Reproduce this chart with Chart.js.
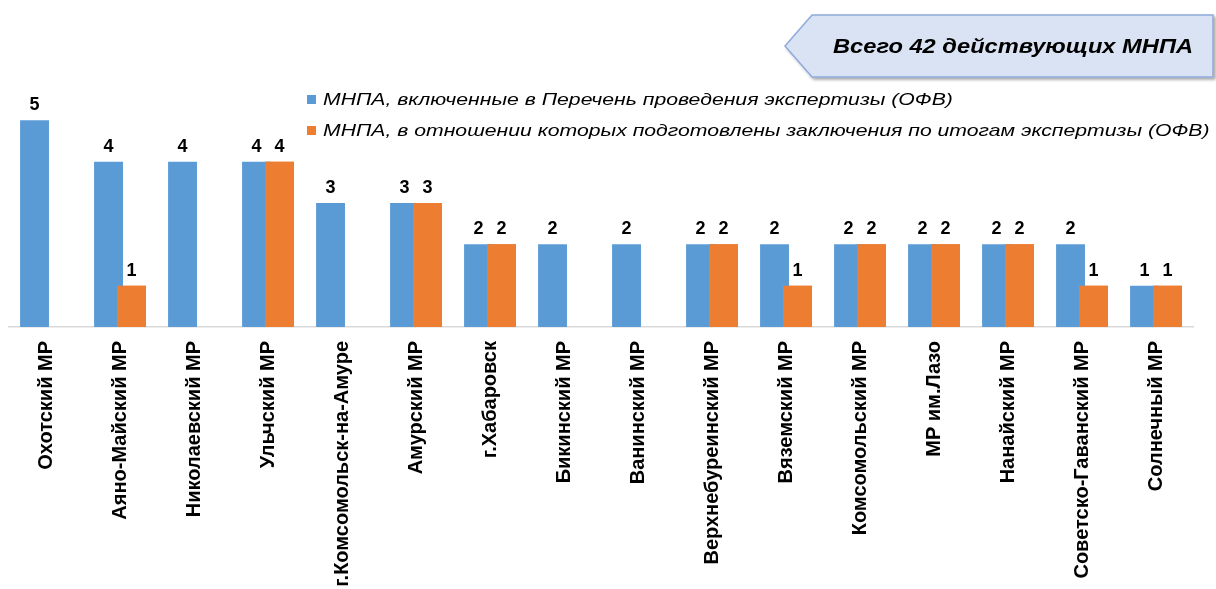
<!DOCTYPE html>
<html lang="ru">
<head>
<meta charset="utf-8">
<title>МНПА</title>
<script src="https://cdn.jsdelivr.net/npm/chart.js@4/dist/chart.umd.min.js"></script>
<style>
  html, body { margin: 0; padding: 0; background: #fff; }
  #wrap { position: relative; width: 1216px; height: 589px; overflow: hidden; }
  #chart { position: absolute; left: 0; top: 0; }
  #legend { position: absolute; left: 307px; top: 84px; font-family: "Liberation Sans", Arial, sans-serif; }
  .item { display: flex; align-items: center; height: 31px; white-space: nowrap; }
  .box { width: 9px; height: 9px; margin-right: 7px; flex: none; }
  .txt { display: inline-block; font-style: italic; font-size: 17px; color: #000; transform-origin: 0 50%; }
  #callout { position: absolute; left: 780px; top: 10px; }
</style>
</head>
<body>
<div id="wrap">
  <canvas id="chart" width="1216" height="589"></canvas>
  <div id="legend"></div>
  <svg id="callout" width="436" height="76">
    <defs>
      <filter id="shadow" x="-5%" y="-10%" width="115%" height="130%">
        <feDropShadow dx="2" dy="2" stdDeviation="1.5" flood-color="#000" flood-opacity="0.35"/>
      </filter>
    </defs>
    <polygon points="5,36 32,5 433,5 433,67 32,67" fill="#dae3f3" stroke="#8eaadb" stroke-width="1.5" filter="url(#shadow)"/>
    <text x="53" y="43" textLength="360" lengthAdjust="spacingAndGlyphs" font-family="Liberation Sans, Arial, sans-serif" font-size="21" font-weight="bold" font-style="italic" fill="#000">Всего 42 действующих МНПА</text>
  </svg>
</div>
<script>
// Данные диаграммы
const categories = [
  'Охотский МР', 'Аяно-Майский МР', 'Николаевский МР', 'Ульчский МР',
  'г.Комсомольск-на-Амуре', 'Амурский МР', 'г.Хабаровск', 'Бикинский МР',
  'Ванинский МР', 'Верхнебуреинский МР', 'Вяземский МР', 'Комсомольский МР',
  'МР им.Лазо', 'Нанайский МР', 'Советско-Гаванский МР', 'Солнечный МР'
];
const includedValues = [5, 4, 4, 4, 3, 3, 2, 2, 2, 2, 2, 2, 2, 2, 2, 1];
const concludedValues = [0, 1, 0, 4, 0, 3, 2, 0, 0, 2, 1, 2, 2, 2, 1, 1];
const seriesNames = [
  'МНПА, включенные в Перечень проведения экспертизы (ОФВ)',
  'МНПА, в отношении которых подготовлены заключения по итогам экспертизы (ОФВ)'
];
const seriesColors = ['#5b9bd5', '#ed7d31'];

const fontFamily = '"Liberation Sans", Arial, sans-serif';

// Оранжевые столбики поверх синих (как в Excel с перекрытием) + подписи значений
const valueLabels = {
  id: 'valueLabels',
  afterDatasetsDraw(chart) {
    const ctx = chart.ctx;
    chart.getDatasetMeta(1).data.forEach(bar => bar.draw(ctx));

    ctx.save();
    ctx.font = 'bold 18px ' + fontFamily;
    ctx.fillStyle = '#000';
    ctx.textAlign = 'center';
    ctx.textBaseline = 'alphabetic';
    chart.data.datasets.forEach((ds, i) => {
      chart.getDatasetMeta(i).data.forEach((bar, j) => {
        const v = ds.data[j];
        if (!v) return;
        ctx.fillText(String(v), bar.x, bar.y - 10);
      });
    });
    ctx.restore();
  }
};

const chart = new Chart(document.getElementById('chart').getContext('2d'), {
  type: 'bar',
  data: {
    labels: categories,
    datasets: [
      { label: seriesNames[0], data: includedValues, backgroundColor: seriesColors[0],
        categoryPercentage: 0.62, barPercentage: 1.26 },
      { label: seriesNames[1], data: concludedValues, backgroundColor: seriesColors[1],
        categoryPercentage: 0.62, barPercentage: 1.26 }
    ]
  },
  options: {
    responsive: false,
    animation: false,
    layout: { padding: { left: 9, right: 23, top: 79, bottom: 0 } },
    plugins: {
      legend: { display: false },
      tooltip: { enabled: false }
    },
    scales: {
      x: {
        grid: { display: false, drawTicks: false },
        border: { color: '#d9d9d9', width: 1.5 },
        ticks: {
          autoSkip: false, maxRotation: 90, minRotation: 90,
          color: '#000', padding: 14,
          font: { family: fontFamily, size: 20, weight: 'bold' }
        },
        afterFit(scale) { scale.height = 262; }
      },
      y: { display: false, min: 0, max: 6 }
    }
  },
  plugins: [valueLabels]
});

// Легенда (текст в оригинале немного растянут по горизонтали)
const legend = document.getElementById('legend');
const texts = [];
chart.data.datasets.forEach(ds => {
  const item = document.createElement('div');
  item.className = 'item';
  const box = document.createElement('span');
  box.className = 'box';
  box.style.background = ds.backgroundColor;
  const text = document.createElement('span');
  text.className = 'txt';
  text.textContent = ds.label;
  item.appendChild(box);
  item.appendChild(text);
  legend.appendChild(item);
  texts.push(text);
});
const stretch = 887 / texts[1].offsetWidth;
texts.forEach(t => { t.style.transform = 'scaleX(' + stretch + ')'; });
</script>
</body>
</html>
